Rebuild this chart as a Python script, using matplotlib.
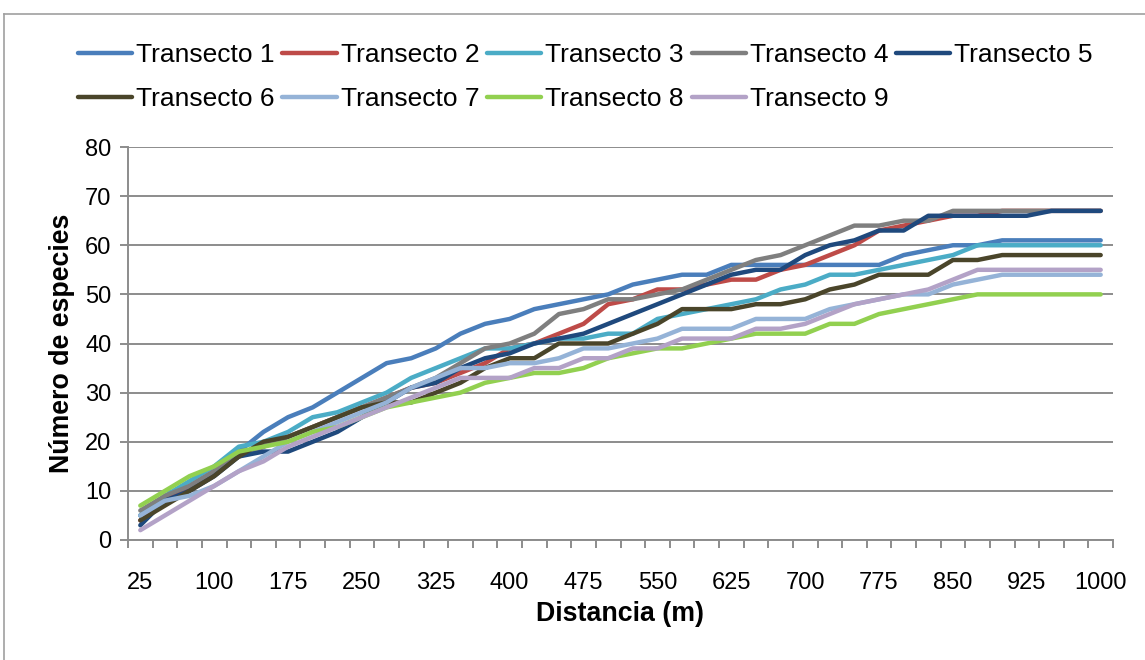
import matplotlib
matplotlib.use("Agg")
import matplotlib.pyplot as plt
from matplotlib.lines import Line2D
import numpy as np

plt.rcParams['font.family'] = ['Liberation Sans', 'DejaVu Sans']

distancias = list(range(25, 1001, 25))
series_names = ["Transecto 1", "Transecto 2", "Transecto 3", "Transecto 4", "Transecto 5",
                "Transecto 6", "Transecto 7", "Transecto 8", "Transecto 9"]
colors = ["#4A7EBB", "#BE4B48", "#4BACC6", "#7F7F7F", "#1F497D",
          "#4A452A", "#95B3D7", "#92D050", "#B3A2C7"]

t1 = [5, 9, 10, 14, 18, 22, 25, 27, 30, 33, 36, 37, 39, 42, 44, 45, 47, 48, 49, 50,
      52, 53, 54, 54, 56, 56, 56, 56, 56, 56, 56, 58, 59, 60, 60, 61, 61, 61, 61, 61]
t2 = [4, 8, 11, 14, 17, 19, 21, 23, 25, 27, 29, 31, 32, 34, 36, 39, 40, 42, 44, 48,
      49, 51, 51, 52, 53, 53, 55, 56, 58, 60, 63, 64, 65, 66, 66, 67, 67, 67, 67, 67]
t3 = [5, 9, 12, 15, 19, 20, 22, 25, 26, 28, 30, 33, 35, 37, 39, 39, 40, 41, 41, 42,
      42, 45, 46, 47, 48, 49, 51, 52, 54, 54, 55, 56, 57, 58, 60, 60, 60, 60, 60, 60]
t4 = [6, 9, 11, 14, 17, 19, 21, 23, 25, 27, 29, 31, 33, 36, 39, 40, 42, 46, 47, 49,
      49, 50, 51, 53, 55, 57, 58, 60, 62, 64, 64, 65, 65, 67, 67, 67, 67, 67, 67, 67]
t5 = [3, 8, 10, 13, 17, 18, 18, 20, 22, 25, 28, 31, 32, 35, 37, 38, 40, 41, 42, 44,
      46, 48, 50, 52, 54, 55, 55, 58, 60, 61, 63, 63, 66, 66, 66, 66, 66, 67, 67, 67]
t6 = [4, 7, 10, 13, 17, 20, 21, 23, 25, 27, 28, 28, 30, 32, 35, 37, 37, 40, 40, 40,
      42, 44, 47, 47, 47, 48, 48, 49, 51, 52, 54, 54, 54, 57, 57, 58, 58, 58, 58, 58]
t7 = [5, 8, 9, 11, 14, 17, 20, 22, 24, 26, 28, 31, 33, 35, 35, 36, 36, 37, 39, 39,
      40, 41, 43, 43, 43, 45, 45, 45, 47, 48, 49, 50, 50, 52, 53, 54, 54, 54, 54, 54]
t8 = [7, 10, 13, 15, 18, 19, 20, 22, 23, 25, 27, 28, 29, 30, 32, 33, 34, 34, 35, 37,
      38, 39, 39, 40, 41, 42, 42, 42, 44, 44, 46, 47, 48, 49, 50, 50, 50, 50, 50, 50]
t9 = [2, 5, 8, 11, 14, 16, 19, 21, 23, 25, 27, 29, 31, 33, 33, 33, 35, 35, 37, 37,
      39, 39, 41, 41, 41, 43, 43, 44, 46, 48, 49, 50, 51, 53, 55, 55, 55, 55, 55, 55]
series = [t1, t2, t3, t4, t5, t6, t7, t8, t9]

yticks = [0, 10, 20, 30, 40, 50, 60, 70, 80]

W, H = 1145, 660
fig = plt.figure(figsize=(W / 100, H / 100), dpi=100)
ax = fig.add_axes([128 / W, 1 - 540 / H, (1113 - 128) / W, (540 - 147) / H])

x = np.arange(len(distancias))
handles = []
for name, vals, c in zip(series_names, series, colors):
    h, = ax.plot(x, vals, color=c, lw=3.2, solid_capstyle='round', solid_joinstyle='round', label=name)
    handles.append(h)

grid_c = "#8C8C8C"
ax.set_xlim(-0.5, len(distancias) - 0.5)
ax.set_ylim(0, 80)
ax.set_yticks(yticks)
ax.yaxis.grid(True, color=grid_c, lw=1.4)
ax.set_axisbelow(True)
for s in ['top', 'right']:
    ax.spines[s].set_visible(False)
for s in ['left', 'bottom']:
    ax.spines[s].set_color(grid_c)
    ax.spines[s].set_linewidth(1.4)

lab_idx = list(range(0, len(distancias), 3))
ax.set_xticks(lab_idx)
ax.set_xticklabels([str(distancias[i]) for i in lab_idx])
ax.set_xticks(np.arange(-0.5, len(distancias), 1), minor=True)
ax.tick_params(axis='x', which='major', length=0, pad=23, labelsize=17)
ax.tick_params(axis='x', which='minor', length=6, width=1.4, color=grid_c, direction='out')
ax.tick_params(axis='y', length=6, width=1.4, color=grid_c, pad=6, labelsize=17)

ax.set_xlabel("Distancia (m)", fontsize=19.3, fontweight='bold', labelpad=5)
ax.set_ylabel("Número de especies", fontsize=19.3, fontweight='bold', labelpad=7)

order = [0, 5, 1, 6, 2, 7, 3, 8, 4]
fig.legend([handles[i] for i in order], [series_names[i] for i in order],
           loc='upper left', bbox_to_anchor=(78 / W, 1 - 43 / H), ncol=5,
           frameon=False, fontsize=19, handlelength=2.05, handletextpad=0.15,
           columnspacing=0.3, labelspacing=0.75, borderpad=0, borderaxespad=0)

# outer chart border
fig.add_artist(Line2D([4 / W, 1], [1 - 14 / H, 1 - 14 / H], transform=fig.transFigure, color="#A0A0A0", lw=1.2))
fig.add_artist(Line2D([4 / W, 4 / W], [0, 1 - 14 / H], transform=fig.transFigure, color="#A0A0A0", lw=1.2))

fig.savefig("out.png", dpi=100)
